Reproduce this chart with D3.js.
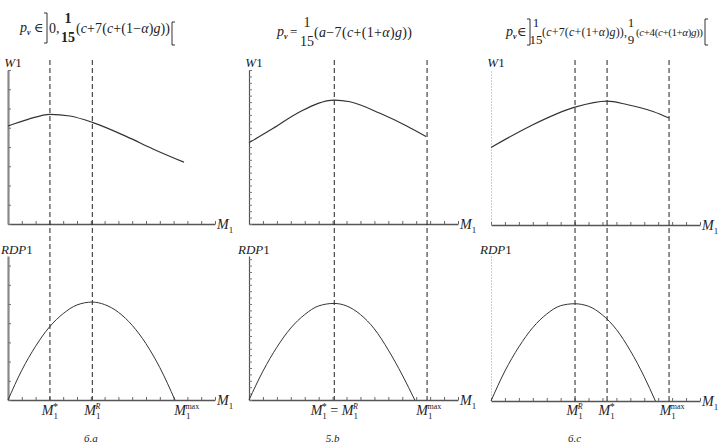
<!DOCTYPE html>
<html>
<head>
<meta charset="utf-8">
<script src="https://cdn.jsdelivr.net/npm/d3@7"></script>
<style>
body { margin: 0; background: #fff; }
svg { display: block; }
text { font-family: "Liberation Serif", "DejaVu Serif", serif; fill: #222; }
</style>
</head>
<body>
<svg id="chart" width="720" height="448"></svg>
<script>
// values (x in M1 units, y in arbitrary units)
var captions = ["6.a", "5.b", "6.c"];
var xTicks = d3.range(0, 16);

var w1A = [[0, 5.09], [1.5, 5.45], [3.04, 5.70], [4.49, 5.61], [6.11, 5.28], [8.6, 4.54], [10.5, 3.90], [12.75, 3.21]];
var w1B = [[0, 4.22], [1.74, 4.97], [3.66, 5.83], [6.12, 6.44], [7.25, 6.35], [9.4, 5.75], [11.32, 5.09], [12.71, 4.54]];
var w1C = [[0, 4.0], [2.8, 5.1], [6.03, 6.08], [8.33, 6.39], [9.74, 6.22], [11.63, 5.86], [12.78, 5.52]];

var rdpA = [[0, 0], [1, 1.55], [2, 2.8], [3, 3.8], [4, 4.5], [5, 4.95], [6.1, 5.1], [7, 4.97], [8, 4.57], [9, 3.89], [10, 2.93], [11, 1.69], [12.1, 0]];
var rdpB = [[0, 0], [1, 1.5], [2, 2.75], [3, 3.75], [4, 4.45], [5, 4.9], [6.1, 5.03], [7, 4.9], [8, 4.45], [9, 3.7], [10, 2.6], [11, 1.3], [11.9, 0]];
var rdpC = [[0, 0], [1, 1.55], [2, 2.8], [3, 3.8], [4, 4.5], [5, 4.93], [6, 5.03], [7, 4.9], [8, 4.45], [9, 3.7], [10, 2.6], [11, 1.25], [11.8, 0]];

var dashA = [3.04, 6.11];
var dashB = [6.12, 12.78];
var dashC = [6.03, 8.33, 12.78];

var markA = [{x: 3.04, k: "*"}, {x: 6.11, k: "R"}, {x: 12.95, k: "max"}];
var markB = [{x: 6.12, k: "*=R"}, {x: 12.9, k: "max"}];
var markC = [{x: 6.0, k: "R"}, {x: 8.3, k: "*"}, {x: 13.0, k: "max"}];

var svg = d3.select("#chart");

// rich text helper: parts with italic / size / vertical shift
function rich(sel, x, y, parts, size) {
    var t = sel.append("text").attr("x", x).attr("y", y).attr("font-size", size);
    var shift = 0;
    parts.forEach(function(p) {
        var want = p.sh || 0;
        var ts = t.append("tspan").text(p.t).attr("dy", want - shift);
        shift = want;
        if (p.i) ts.attr("font-style", "italic");
        if (p.s) ts.attr("font-size", p.s);
        if (p.b) ts.attr("font-weight", "bold");
        if (p.dx) ts.attr("dx", p.dx);
    });
    return t;
}

// formula body: letters italic, the rest upright (runs grouped)
function formula(sel, x, y, str, size, len) {
    var parts = [];
    str.split("").forEach(function(ch) {
        var it = /[a-zα]/.test(ch);
        var last = parts[parts.length - 1];
        if (last && !!last.i === it) last.t += ch;
        else parts.push({t: ch, i: it});
    });
    var t = rich(sel, x, y, parts, size);
    if (len) t.attr("textLength", len).attr("lengthAdjust", "spacing");
    return t;
}

// tall thin bracket; dir = -1 for "]", +1 for "["
function bracket(sel, x, y0, y1, dir) {
    sel.append("path")
        .attr("d", "M" + (x + 3 * dir) + "," + y0 + "H" + x + "V" + y1 + "H" + (x + 3 * dir))
        .attr("fill", "none").attr("stroke", "#333").attr("stroke-width", 1);
}

function mLabel(k) {
    if (k === "*=R") {
        return [{t: "M", i: 1}, {t: "1", s: 9, sh: 4}, {t: "*", s: 10, sh: -5, dx: -5},
                {t: " = ", sh: 0}, {t: "M", i: 1}, {t: "1", s: 9, sh: 4}, {t: "R", s: 8, sh: -6, dx: -5, i: 1}];
    }
    if (k === "*") return [{t: "M", i: 1}, {t: "1", s: 9, sh: 4}, {t: "*", s: 10, sh: -5, dx: -5}];
    return [{t: "M", i: 1}, {t: "1", s: 9, sh: 4}, {t: k, s: 8, sh: -6, dx: -5, i: k === "R" ? 1 : 0}];
}

var panels = [
    {x0: 8,   x1: 215, dy: 0, w: w1A, r: rdpA, dash: dashA, mark: markA, yStyle: "thick"},
    {x0: 249, x1: 458, dy: 0, w: w1B, r: rdpB, dash: dashB, mark: markB, yStyle: "fine"},
    {x0: 491, x1: 700, dy: 1, w: w1C, r: rdpC, dash: dashC, mark: markC, yStyle: "dotted"}
];

panels.forEach(function(p, i) {
    var g = svg.append("g");
    var x = d3.scaleLinear().domain([0, 15]).range([p.x0, p.x1]);
    var yTop = d3.scaleLinear().domain([0, 8]).range([224 + p.dy, 70]);
    var yBot = d3.scaleLinear().domain([0, 7.5]).range([400 + p.dy, 256]);

    [yTop, yBot].forEach(function(y, j) {
        var xa = g.append("g")
            .attr("transform", "translate(0," + y(0) + ")")
            .call(d3.axisBottom(x).tickValues(xTicks).tickSize(-3).tickSizeOuter(0).tickFormat(""));
        xa.select(".domain").attr("stroke", "#555").attr("stroke-width", 1.3);
        xa.selectAll(".tick line").attr("stroke", "#666");

        var step = p.yStyle === "fine" ? 1 / 3 : 1;
        var ya = g.append("g")
            .attr("transform", "translate(" + x(0) + ",0)")
            .call(d3.axisLeft(y).tickValues(d3.range(0, y.domain()[1] + 0.01, step))
                .tickSize(p.yStyle === "dotted" ? 0 : -3).tickSizeOuter(0).tickFormat(""));
        var dom = ya.select(".domain");
        if (p.yStyle === "thick") dom.attr("stroke", "#888").attr("stroke-width", 2.2);
        else if (p.yStyle === "fine") dom.attr("stroke", "#555").attr("stroke-width", 1.2);
        else dom.attr("stroke", "#999").attr("stroke-width", 1).attr("stroke-dasharray", "1,2");
        ya.selectAll(".tick line").attr("stroke", "#777");

        // axis end label M1
        rich(g, p.x1 + 2, y(0) + 5, [{t: "M", i: 1}, {t: "1", s: 9, sh: 4}], 14);
        // vertical axis label
        if (j === 0) rich(g, x(0) + 5, 67, [{t: "W", i: 1}, {t: "1"}], 13).attr("text-anchor", "middle");
        else rich(g, Math.max(1, x(0) - 11), 254, [{t: "RDP", i: 1}, {t: "1"}], 13);
    });

    // dashed reference lines through both plots
    g.selectAll(".dash").data(p.dash).enter().append("line")
        .attr("x1", function(d) { return x(d); })
        .attr("x2", function(d) { return x(d); })
        .attr("y1", 60).attr("y2", yBot(0))
        .attr("stroke", "#222").attr("stroke-width", 1).attr("stroke-dasharray", "5,3");

    var line = function(y) {
        return d3.line().x(function(d) { return x(d[0]); }).y(function(d) { return y(d[1]); })
            .curve(d3.curveMonotoneX);
    };
    g.append("path").attr("d", line(yTop)(p.w))
        .attr("fill", "none").attr("stroke", "#333").attr("stroke-width", 1.2);
    g.append("path").attr("d", line(yBot)(p.r))
        .attr("fill", "none").attr("stroke", "#333").attr("stroke-width", 1);

    // marker labels under bottom axis
    p.mark.forEach(function(m) {
        rich(g, x(m.x), 415, mLabel(m.k), 14).attr("text-anchor", "middle");
    });

    g.append("text").attr("x", x(6)).attr("y", 442)
        .attr("text-anchor", "middle").attr("font-size", 11)
        .attr("font-style", "italic").attr("fill", "#555").text(captions[i]);
});

// header formulas
var hd = svg.append("g");
function pv(x, y, sym, sx) {
    rich(hd, x, y, [{t: "p", i: 1}, {t: "v", s: 8, sh: 3, b: 1, i: 1}], 14);
    hd.append("text").attr("x", sx).attr("y", y).attr("font-size", 13).text(sym);
}
function frac(x, yNum, yDen, num, den, size, bold) {
    [[num, yNum], [den, yDen]].forEach(function(d) {
        hd.append("text").attr("x", x).attr("y", d[1]).attr("font-size", size)
            .attr("font-weight", bold ? "bold" : null).attr("text-anchor", "middle").text(d[0]);
    });
}
// 6.a
pv(20, 32, "∈", 34);
bracket(hd, 47, 13, 43, -1);
hd.append("text").attr("x", 49).attr("y", 33).attr("font-size", 14).text("0,");
frac(68, 23, 42, "1", "15", 14, true);
formula(hd, 76, 33, "(c+7(c+(1−α)g))", 14, 94);
bracket(hd, 172, 22, 45, 1);

// 5.b
pv(277, 36, "=", 290);
frac(307, 27, 46, "1", "15", 14, false);
formula(hd, 314, 37, "(a−7(c+(1+α)g))", 14, 98);

// 6.c
pv(506, 36, "∈", 517);
bracket(hd, 530, 19, 45, -1);
frac(536, 27, 44, "1", "15", 13, false);
formula(hd, 542, 36, "(c+7(c+(1+α)g)),", 12, 85);
frac(631, 27, 44, "1", "9", 13, false);
formula(hd, 636, 36, "(c+4(c+(1+α)g))", 11, 67);
bracket(hd, 705, 19, 45, 1);
</script>
</body>
</html>
